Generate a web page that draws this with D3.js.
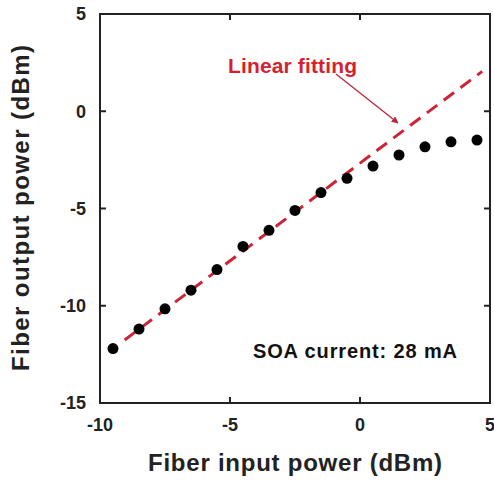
<!DOCTYPE html>
<html>
<head>
<meta charset="utf-8">
<script src="https://cdn.jsdelivr.net/npm/d3@7"></script>
<style>
  html, body { margin: 0; padding: 0; background: #fff; }
  svg { display: block; font-family: "Liberation Sans", Arial, sans-serif; font-weight: bold; }
</style>
</head>
<body>
<svg id="chart" width="494" height="482"></svg>
<script>
// Measured SOA gain curve: fiber input power vs fiber output power (dBm)
const inputPower  = [-9.5, -8.5, -7.5, -6.5, -5.5, -4.5, -3.5, -2.5, -1.5, -0.5, 0.5, 1.5, 2.5, 3.5, 4.5];
const outputPower = [-12.2, -11.2, -10.16, -9.2, -8.14, -6.95, -6.12, -5.1, -4.18, -3.45, -2.82, -2.25, -1.83, -1.57, -1.48];

// Linear fit drawn over the small-signal region (end points)
const fitInput  = [-9.05, 4.7];
const fitOutput = [-11.76, 2.05];

const xTicks = [-10, -5, 0, 5];
const yTicks = [-15, -10, -5, 0, 5];

const fitLabel = "Linear fitting";
const noteLabel = "SOA current: 28 mA";
const xTitle = "Fiber input power (dBm)";
const yTitle = "Fiber output power (dBm)";

const svg = d3.select("#chart");
const L = 100, R = 490, T = 14, B = 403;

const x = d3.scaleLinear().domain([-10, 5]).range([L, R]);
const y = d3.scaleLinear().domain([-15, 5]).range([B, T]);

const axisColor = "#222";
const tickLen = 6;

// Frame
svg.append("rect")
  .attr("x", L).attr("y", T).attr("width", R - L).attr("height", B - T)
  .attr("fill", "none").attr("stroke", axisColor).attr("stroke-width", 2);

// Inner ticks on all four sides (interior majors only)
const xInner = xTicks.filter(v => v > -10 && v < 5);
const yInner = yTicks.filter(v => v > -15 && v < 5);
const tk = svg.append("g").attr("stroke", axisColor).attr("stroke-width", 2);
xInner.forEach(v => {
  tk.append("line").attr("x1", x(v)).attr("x2", x(v)).attr("y1", B).attr("y2", B - tickLen);
  tk.append("line").attr("x1", x(v)).attr("x2", x(v)).attr("y1", T).attr("y2", T + tickLen);
});
yInner.forEach(v => {
  tk.append("line").attr("y1", y(v)).attr("y2", y(v)).attr("x1", L).attr("x2", L + tickLen);
  tk.append("line").attr("y1", y(v)).attr("y2", y(v)).attr("x1", R).attr("x2", R - tickLen);
});

// Tick labels
svg.append("g").selectAll("text").data(xTicks).join("text")
  .attr("x", d => x(d)).attr("y", 431)
  .attr("text-anchor", "middle").attr("font-size", 18).attr("fill", "#222")
  .text(d => d);
svg.append("g").selectAll("text").data(yTicks).join("text")
  .attr("x", 86).attr("y", d => y(d)).attr("dy", "0.36em")
  .attr("text-anchor", "end").attr("font-size", 18).attr("fill", "#222")
  .text(d => d);

// Axis titles
svg.append("text")
  .attr("x", (L + R) / 2).attr("y", 471)
  .attr("text-anchor", "middle").attr("font-size", 24).attr("fill", "#222")
  .attr("textLength", 294).attr("lengthAdjust", "spacing")
  .text(xTitle);
svg.append("text")
  .attr("transform", "translate(29,208) rotate(-90)")
  .attr("text-anchor", "middle").attr("font-size", 24).attr("fill", "#222")
  .attr("textLength", 326).attr("lengthAdjust", "spacing")
  .text(yTitle);

// Linear fit (dashed red)
const fitPts = fitInput.map((v, i) => [v, fitOutput[i]]);
svg.append("path")
  .datum(fitPts)
  .attr("d", d3.line().x(d => x(d[0])).y(d => y(d[1])))
  .attr("fill", "none").attr("stroke", "#cc2438").attr("stroke-width", 3)
  .attr("stroke-dasharray", "13,8");

// Measured points
svg.append("g").selectAll("circle").data(inputPower).join("circle")
  .attr("cx", d => x(d)).attr("cy", (d, i) => y(outputPower[i]))
  .attr("r", 5.5).attr("fill", "#000");

// Annotation: label + arrow pointing at the fit line
const defs = svg.append("defs");
defs.append("marker")
  .attr("id", "arrowHead").attr("viewBox", "0 0 10 10")
  .attr("refX", 9).attr("refY", 5)
  .attr("markerWidth", 7).attr("markerHeight", 7)
  .attr("markerUnits", "userSpaceOnUse")
  .attr("orient", "auto")
  .append("path").attr("d", "M0,0 L10,5 L0,10 z").attr("fill", "#b8283a");

svg.append("line")
  .attr("x1", 336).attr("y1", 74).attr("x2", 398).attr("y2", 123)
  .attr("stroke", "#b8283a").attr("stroke-width", 1.3)
  .attr("marker-end", "url(#arrowHead)");

svg.append("text")
  .attr("x", 228).attr("y", 73)
  .attr("font-size", 21).attr("fill", "#d81f30")
  .attr("textLength", 129).attr("lengthAdjust", "spacing")
  .text(fitLabel);

svg.append("text")
  .attr("x", 253).attr("y", 358)
  .attr("font-size", 20).attr("fill", "#111")
  .attr("textLength", 204).attr("lengthAdjust", "spacing")
  .text(noteLabel);
</script>
</body>
</html>
